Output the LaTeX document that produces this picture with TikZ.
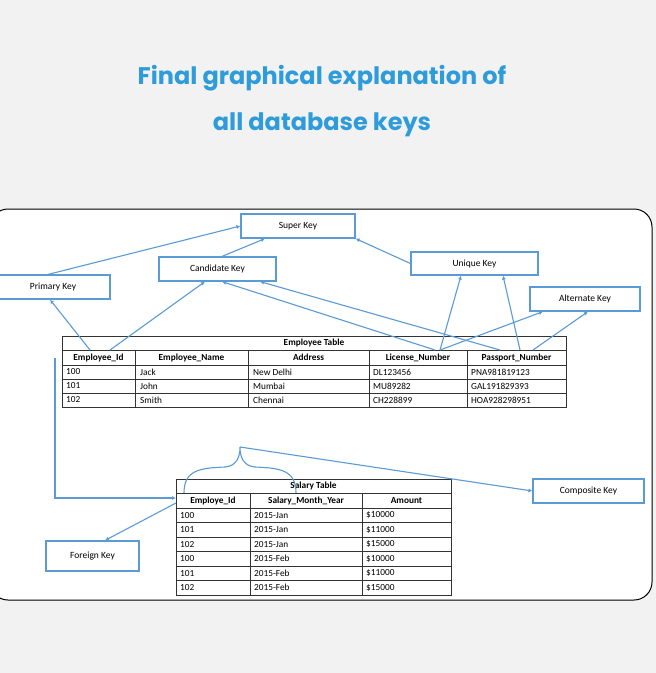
\documentclass[tikz,border=0pt]{standalone}
\usepackage{fontspec}
\setmainfont{Carlito}
\newfontfamily\titlefont{Poppins}
\usetikzlibrary{arrows.meta}
\definecolor{kblue}{HTML}{5B9BD5}
\definecolor{tblue}{HTML}{2E9BDB}
\definecolor{bg}{HTML}{F2F2F2}
\tikzset{
 keybox/.style={draw=kblue,line width=1.2pt,fill=white,font=\fontsize{9.5}{10}\selectfont,inner sep=0pt},
 conn/.style={kblue,line width=1.1pt,-{Latex[length=4pt,width=4pt]}},
 cell/.style={font=\fontsize{9.3}{10}\selectfont,anchor=west,inner sep=0pt},
 hcell/.style={font=\bfseries\fontsize{9.3}{10}\selectfont,inner sep=0pt},
 grid/.style={draw=black!80,line width=0.6pt}
}
\begin{document}
\begin{tikzpicture}[x=1pt,y=-1pt]
\useasboundingbox (0,0) rectangle (656,673);
\fill[bg] (0,0) rectangle (656,673);
\draw[fill=white,line width=1pt,rounded corners=18pt] (-10,209) rectangle (652,600);
\node[text=tblue,font=\titlefont\bfseries\fontsize{24}{28}\selectfont] (t1) at (322,78) {Final graphical explanation of};
\node[text=tblue,font=\titlefont\bfseries\fontsize{24}{28}\selectfont] (t2) at (322,125) {all database keys};
% key boxes
\node[keybox,minimum width=114pt,minimum height=24pt] (super) at (298,226) {Super Key};
\node[keybox,minimum width=117pt,minimum height=24pt] (cand) at (217.5,269) {Candidate Key};
\node[keybox,minimum width=114pt,minimum height=24pt] (prim) at (53,287) {Primary Key};
\node[keybox,minimum width=127pt,minimum height=23pt] (uniq) at (474.5,263.5) {Unique Key};
\node[keybox,minimum width=110pt,minimum height=24pt] (alt) at (585,299) {Alternate Key};
\node[keybox,minimum width=111pt,minimum height=24pt] (comp) at (588.5,491) {Composite Key};
\node[keybox,minimum width=93pt,minimum height=30pt] (fk) at (92.5,556) {Foreign Key};
% employee table
\fill[white] (62,336) rectangle (566,407);
\draw[grid] (62,336) rectangle (566,407);
\foreach \y in {350,365,379,393} \draw[grid] (62,\y) -- (566,\y);
\foreach \x in {135,248,369,467} \draw[grid] (\x,350) -- (\x,407);
\node[hcell] (etitle) at (314,343) {Employee Table};
\node[hcell] (eid) at (98.5,357.5) {Employee\_Id};
\node[hcell] (ename) at (191.5,357.5) {Employee\_Name};
\node[hcell] (eaddr) at (308.5,357.5) {Address};
\node[hcell] (elic) at (418,357.5) {License\_Number};
\node[hcell] (epass) at (516.5,357.5) {Passport\_Number};
\node[cell] at (66,372) {100};\node[cell] at (140,372) {Jack};\node[cell] at (253,372) {New Delhi};\node[cell] at (373,372) {DL123456};\node[cell] at (471,372) {PNA981819123};
\node[cell] at (66,386) {101};\node[cell] at (140,386) {John};\node[cell] at (253,386) {Mumbai};\node[cell] at (373,386) {MU89282};\node[cell] at (471,386) {GAL191829393};
\node[cell] at (66,400) {102};\node[cell] at (140,400) {Smith};\node[cell] at (253,400) {Chennai};\node[cell] at (373,400) {CH228899};\node[cell] at (471,400) {HOA928298951};
% salary table
\fill[white] (176,479) rectangle (451,595);
\draw[grid] (176,479) rectangle (451,595);
\foreach \y in {493,508,522.5,537,551.5,566,580.5} \draw[grid] (176,\y) -- (451,\y);
\foreach \x in {250,362} \draw[grid] (\x,493) -- (\x,595);
\node[hcell] (stitle) at (313.5,486) {Salary Table};
\node[hcell] (sid) at (213,500.5) {Employe\_Id};
\node[hcell] (smy) at (306,500.5) {Salary\_Month\_Year};
\node[hcell] (samt) at (406.5,500.5) {Amount};
\foreach \i/\a/\b/\c in {0/100/2015-Jan/\$10000,1/101/2015-Jan/\$11000,2/102/2015-Jan/\$15000,3/100/2015-Feb/\$10000,4/101/2015-Feb/\$11000,5/102/2015-Feb/\$15000}{
 \node[cell] at (180,515.25+14.5*\i) {\a};
 \node[cell] at (254,515.25+14.5*\i) {\b};
 \node[cell] at (366,515.25+14.5*\i) {\c};
}
% coordinates
\coordinate (eidA) at (90,350); \coordinate (eidB) at (110,350);
\coordinate (licA) at (435,350); \coordinate (licB) at (440,350);
\coordinate (pasA) at (500,350); \coordinate (pasB) at (520,350); \coordinate (pasC) at (533,350);
\coordinate (eidL) at (55,358);
\coordinate (brace) at (240,447);
% connectors
\draw[conn] (eidA) -- (prim.south -| 50,0);
\draw[conn] (prim.north -| 48,0) -- (super.west);
\draw[conn] (eidB) -- (cand.south -| 205,0);
\draw[conn] (cand.north -| 222,0) -- (super.south -| 265,0);
\draw[conn] (uniq.west) -- (super.south east);
\draw[conn] (licA) -- (cand.south -| 222,0);
\draw[conn] (licB) -- (uniq.south -| 461,0);
\draw[conn] (licB) -- (alt.south -| 543,0);
\draw[conn] (pasA) -- (cand.south -| 260,0);
\draw[conn] (pasB) -- (uniq.south -| 503,0);
\draw[conn] (pasC) -- (alt.south -| 588,0);
\draw[conn] (eidL) -- (55,498) -- (176,498);
\draw[conn] (176,503) -- (fk.north -| 105,0);
\draw[kblue,line width=1.1pt] (184,493) .. controls (184,470) and (200,468) .. (225,467) .. controls (236,466) and (240,458) .. (brace) .. controls (240,458) and (244,466) .. (255,467) .. controls (280,468) and (296,470) .. (296,493);
\draw[conn] (brace) -- (comp.west);
\end{tikzpicture}
\end{document}
